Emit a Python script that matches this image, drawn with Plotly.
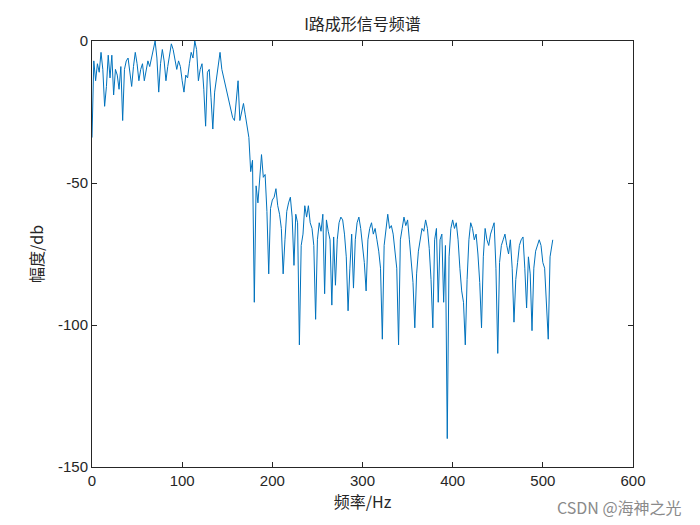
import numpy as np
import plotly.graph_objects as go

# Magnitude spectrum (dB), sampled every 2 Hz from 0 to 510, plus 511
freq_step = 2
mag_db = [
    -34, -7, -14, -8, -11,
    -4, -10, -23, -16, -5,
    -13, -5, -19, -10, -12,
    -17, -9, -28, -10, -7,
    -6, -12, -16, -9, -4,
    -8, -14, -10, -8, -14,
    -11, -7, -9, -6, -2,
    0, -6, -18, -8, -3,
    -7, -14, -9, -5, -1,
    -3, -6, -10, -7, -9,
    -14, -18, -12, -13, -8,
    -4, -6, 0, -3, -14,
    -10, -8, -17, -30, -11,
    -10, -20, -31, -18, -13,
    -9, -4, -10, -13, -16,
    -19, -22, -24, -27, -28,
    -21, -14, -28, -25, -22,
    -26, -30, -34, -46, -42,
    -92, -51, -57, -48, -40,
    -48, -47, -60, -82, -59,
    -56, -55, -52, -58, -61,
    -66, -82, -70, -60, -57,
    -55, -62, -79, -61, -64,
    -107, -72, -68, -58, -62,
    -58, -64, -66, -72, -98,
    -70, -64, -67, -61, -89,
    -63, -67, -70, -93, -69,
    -86, -70, -64, -62, -63,
    -68, -76, -95, -80, -68,
    -87, -70, -64, -62, -66,
    -72, -78, -88, -70, -66,
    -64, -68, -66, -70, -74,
    -80, -105, -72, -66, -61,
    -66, -65, -68, -73, -80,
    -107, -70, -66, -62, -65,
    -63, -70, -78, -85, -101,
    -82, -74, -70, -66, -67,
    -63, -66, -73, -84, -101,
    -70, -66, -92, -70, -68,
    -92, -72, -140, -76, -66,
    -63, -66, -64, -70, -80,
    -88, -92, -107, -84, -70,
    -64, -66, -70, -68, -75,
    -85, -101, -76, -66, -70,
    -72, -68, -66, -64, -80,
    -110, -78, -72, -70, -68,
    -72, -75, -70, -80, -99,
    -84, -78, -72, -70, -69,
    -80, -94, -76, -82, -102,
    -80, -74, -72, -70, -72,
    -78, -80, -95, -105, -76,
    -72,
]
last_freq = 511
last_mag = -70

freq = [i * freq_step for i in range(len(mag_db))] + [last_freq]
mags = mag_db + [last_mag]

x_ticks = [0, 100, 200, 300, 400, 500, 600]
x_tick_labels = ["0", "100", "200", "300", "400", "500", "600"]
y_ticks = [0, -50, -100, -150]
y_tick_labels = ["0", "-50", "-100", "-150"]

fig = go.Figure()
fig.add_trace(go.Scatter(x=freq, y=mags, mode="lines",
                         line=dict(color="#0072BD", width=1),
                         showlegend=False))

axis_common = dict(showgrid=False, zeroline=False, showline=True,
                   linecolor="#262626", linewidth=1, mirror="ticks",
                   ticks="inside", ticklen=5, tickcolor="#262626", automargin=False,
                   tickfont=dict(family="Liberation Sans, Arial", size=15, color="#262626"))

fig.update_layout(
    width=692, height=517,
    margin=dict(l=84, r=67, t=33, b=58, autoexpand=False),
    paper_bgcolor="white", plot_bgcolor="white",
    title=dict(text="I路成形信号频谱", x=(84 + 541 / 2) / 692, xanchor="center",
               y=1 - 16 / 517, yanchor="middle",
               font=dict(family="Noto Sans CJK SC", size=16, color="#262626")),
    xaxis=dict(range=[0, 600], tickvals=x_ticks, ticktext=x_tick_labels,
               title=dict(text="频率/Hz", standoff=5,
                          font=dict(family="Noto Sans CJK SC, Liberation Sans", size=16, color="#262626")),
               **axis_common),
    yaxis=dict(range=[-150, 0], tickvals=y_ticks, ticktext=y_tick_labels,
               title=dict(text="幅度/db", standoff=10,
                          font=dict(family="Noto Sans CJK SC, Liberation Sans", size=16, color="#262626")),
               **axis_common),
)

fig.add_annotation(text="CSDN @海神之光", xref="paper", yref="paper",
                   x=(676 - 84) / 541, y=(459 - 499) / 426, xanchor="right", yanchor="middle",
                   showarrow=False,
                   font=dict(family="Noto Sans CJK SC", size=16, color="#8a8a8a"))

fig.write_html("out.html")
